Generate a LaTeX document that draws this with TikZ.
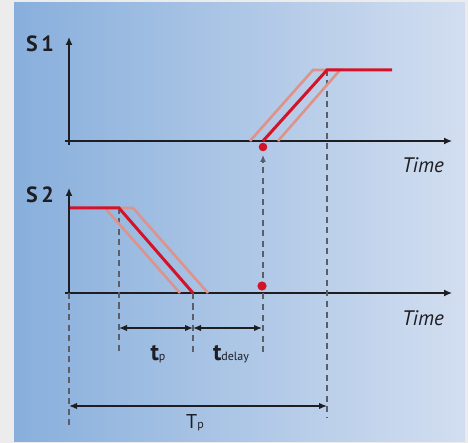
\documentclass[tikz,border=0pt]{standalone}
\usepackage{fontspec}
\setmainfont{PT Sans}
\usetikzlibrary{arrows.meta,calc}
\definecolor{frame}{RGB}{236,236,236}
\definecolor{panelL}{RGB}{136,175,220}
\definecolor{panelR}{RGB}{210,222,240}
\definecolor{sigred}{RGB}{212,18,40}
\definecolor{ghostred}{RGB}{222,146,140}
\definecolor{guidegray}{RGB}{90,94,104}
\definecolor{ink}{RGB}{30,30,34}

\begin{document}
\begin{tikzpicture}[x=1pt, y=-1pt,
    axis/.style = {draw, ink, line width=1.3pt, -{Latex[length=8pt,width=7pt]}},
    sig/.style = {draw, sigred, line width=3pt},
    ghost/.style = {draw, ghostred, line width=2.6pt},
    guide/.style = {draw, guidegray, line width=1.1pt, dash pattern=on 6pt off 4.5pt},
    dim/.style = {draw, ink, line width=1.4pt, {Latex[length=8pt,width=6.5pt]}-{Latex[length=8pt,width=6.5pt]}},
    lbl/.style = {text=ink, inner sep=0pt, anchor=base}]
        % frame and panel
        \path[fill = frame](0,0)rectangle(468,443);
        \shade[left color = panelL, right color = panelR](14,3)rectangle(465,441);
        % origins
        \coordinate(O1)at(69,141);
        \coordinate(O2)at(69,293);
        % S1 edge
        \coordinate(A1)at(263,141);
        \coordinate(B1)at(327,70);
        \coordinate(C1)at(392,70);
        % S2 edge
        \coordinate(A2)at(70,208);
        \coordinate(B2)at(119,208);
        \coordinate(C2)at(193,293);
        % dots
        \coordinate(D1)at(263,147);
        \coordinate(D2)at(262,286);
        % 上 axes
        \path[axis](65,141)to(452,141);
        \path[axis](69,145)to(69,37);
        % 下 axes
        \path[axis](65,293)to(452,293);
        \path[axis](69,297)to(69,188);
        % guides
        \path[guide](B1)to(327,417);
        \path[guide](B2)to(119,352);
        \path[guide](C2)to(193,352);
        \path[guide](O2)to(69,427);
        \path[guide, -{Latex[length=7pt,width=6pt]}](263,352)to(263,155);
        % ghost edges
        \path[ghost](250,141)to(313,70)to(340,70)to(278,141);
        \path[ghost](180,293)to(105,208)to(133,208)to(208,293);
        % signals
        \path[sig](A1)to(B1)to(C1);
        \path[sig](A2)to(B2)to(C2);
        \path[fill = sigred](D1)circle(4.3);
        \path[fill = sigred](D2)circle(4.6);
        % time spans
        \path[dim](B2|-0,328)to(C2|-0,328);
        \path[dim](C2|-0,328)to(D2|-0,328);
        \path[dim](O2|-0,406)to(B1|-0,406);
        % labels
        \node[lbl, font=\fontsize{22}{22}\selectfont\bfseries](S1lbl)at(40,52){S\,1};
        \node[lbl, font=\fontsize{22}{22}\selectfont\bfseries](S2lbl)at(40,203){S\,2};
        \node[lbl, font=\fontsize{21}{21}\selectfont\itshape](time1)at(423,173){Time};
        \node[lbl, font=\fontsize{21}{21}\selectfont\itshape](time2)at(423,325){Time};
        \node[lbl](tp)at(158,360){\fontsize{24}{24}\selectfont\bfseries t\fontsize{12}{12}\selectfont\mdseries p};
        \node[lbl](tdelay)at(231,360){\fontsize{24}{24}\selectfont\bfseries t\fontsize{12}{12}\selectfont\mdseries delay};
        \node[lbl](Tp)at(195,428){\fontsize{20}{20}\selectfont T\fontsize{12}{12}\selectfont p};
    \end{tikzpicture}
\end{document}
